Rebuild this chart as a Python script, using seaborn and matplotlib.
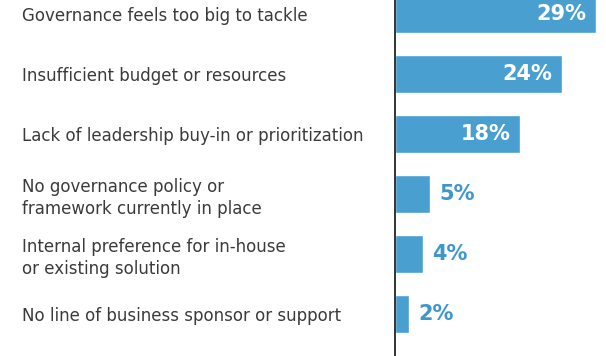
import matplotlib
matplotlib.use("Agg")
import matplotlib.pyplot as plt
import seaborn as sns
import pandas as pd

categories = [
    "Governance feels too big to tackle",
    "Insufficient budget or resources",
    "Lack of leadership buy-in or prioritization",
    "No governance policy or\nframework currently in place",
    "Internal preference for in-house\nor existing solution",
    "No line of business sponsor or support",
]
values = [29, 24, 18, 5, 4, 2]
value_labels = ["29%", "24%", "18%", "5%", "4%", "2%"]

BAR = "#4a9fd1"
LABEL_BLUE = "#3f96cc"
TEXT = "#3b3b3b"

sns.set_theme(style="white")
plt.rcParams["font.family"] = ["DejaVu Sans"]

df = pd.DataFrame({"reason": categories, "share": values})

fig = plt.figure(figsize=(6.06, 3.56), dpi=100)
ax = fig.add_axes([0.652, 0.0, 0.348, 1.0])

sns.barplot(data=df, x="share", y="reason", orient="h", color=BAR,
            saturation=1, width=0.63, ax=ax)

ax.set_xlim(0, 30.4)
ax.set_ylim(5.7, -0.233)
ax.set_xlabel("")
ax.set_ylabel("")
ax.set_xticks([])

for s in ["top", "right", "bottom"]:
    ax.spines[s].set_visible(False)
ax.spines["left"].set_color("#333333")
ax.spines["left"].set_linewidth(1.4)

ax.tick_params(axis="y", length=0, pad=268.5, labelsize=12, labelcolor=TEXT)
for lab in ax.get_yticklabels():
    lab.set_horizontalalignment("left")
    lab.set_verticalalignment("center_baseline")
    lab.set_linespacing(1.32)

for i, (v, txt) in enumerate(zip(values, value_labels)):
    if v >= 10:
        ax.annotate(txt, (v, i), xytext=(-7, 0), textcoords="offset points",
                    ha="right", va="center", color="white",
                    fontsize=15, fontweight="bold")
    else:
        ax.annotate(txt, (v, i), xytext=(7, 0), textcoords="offset points",
                    ha="left", va="center", color=LABEL_BLUE,
                    fontsize=15, fontweight="bold")

fig.savefig("out.png", dpi=100)
